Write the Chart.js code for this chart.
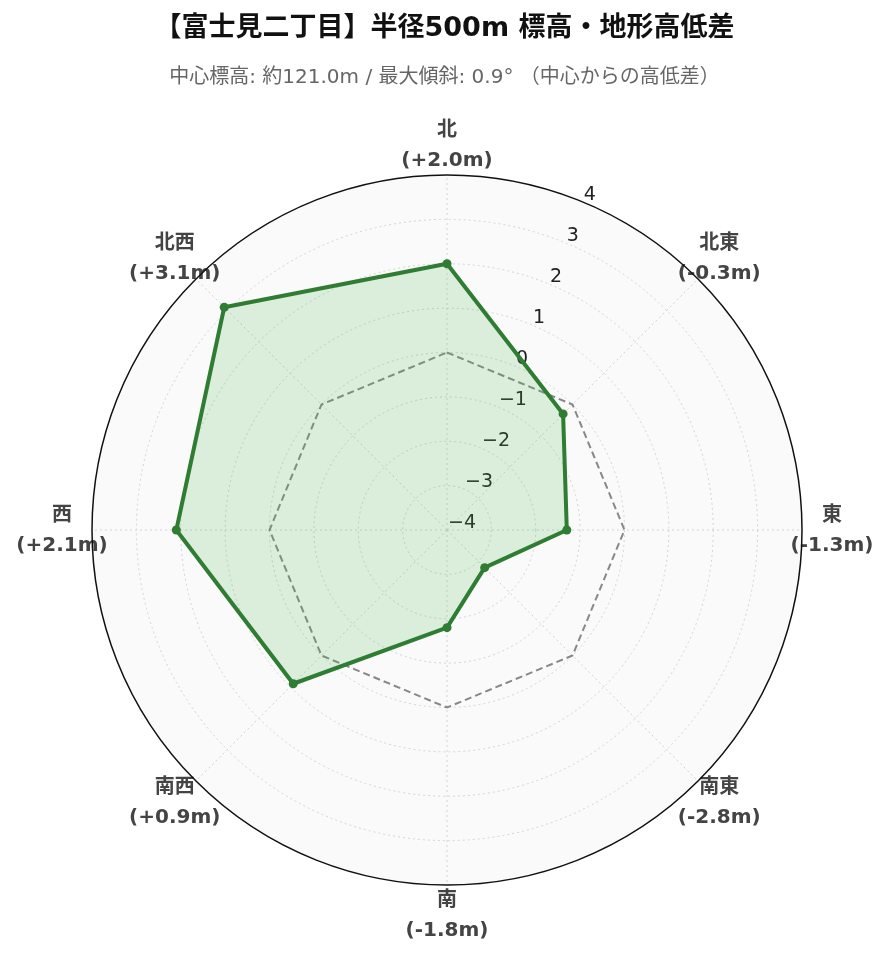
<!DOCTYPE html>
<html>
<head>
<meta charset="utf-8">
<script src="https://cdn.jsdelivr.net/npm/chart.js@4"></script>
<style>
  html, body { margin: 0; padding: 0; background: #fff; }
  #wrap { position: relative; width: 889px; height: 962px; }
  #title, #subtitle { position: absolute; left: 0; width: 889px; text-align: center; font-family: "DejaVu Sans", "Noto Sans CJK JP", sans-serif; }
  #title { top: 11px; line-height: 32px; font-size: 27px; font-weight: bold; color: #111; }
  #subtitle { top: 63px; line-height: 26px; font-size: 20px; color: #666; }
  canvas { position: absolute; left: 0; top: 0; }
</style>
</head>
<body>
<div id="wrap">
  <canvas id="radar" width="889" height="962"></canvas>
  <div id="title">【富士見二丁目】半径500m 標高・地形高低差</div>
  <div id="subtitle">中心標高: 約121.0m / 最大傾斜: 0.9° （中心からの高低差）</div>
</div>
<script>
// ─── DATA ─────────────────────────────────────────────────────────
const directions = ["北", "北東", "東", "南東", "南", "南西", "西", "北西"];
const diffs = [2.0, -0.3, -1.3, -2.8, -1.8, 0.9, 2.1, 3.1];
const zeroLine = [0, 0, 0, 0, 0, 0, 0, 0];
const rMin = -4;
const rMax = 4;

const green = "#2e7d32";

function fmtDiff(v) {
  return `(${v >= 0 ? "+" : "-"}${Math.abs(v).toFixed(1)}m)`;
}

// tick labels, point labels and outer ring drawn with the scale's own geometry
const overlayPlugin = {
  id: "overlay",
  beforeDatasetsDraw(chart) {
    const scale = chart.scales.r;
    const ctx = chart.ctx;
    const cx = scale.xCenter;
    const cy = scale.yCenter;

    ctx.save();
    // radial ticks along 22.5°
    const a = -Math.PI / 2 + Math.PI / 8;
    ctx.font = '19px "DejaVu Sans"';
    ctx.fillStyle = "#222";
    ctx.textAlign = "left";
    ctx.textBaseline = "alphabetic";
    scale.ticks.forEach((t) => {
      const d = scale.getDistanceFromCenterForValue(t.value);
      const x = cx + Math.cos(a) * d;
      const y = cy + Math.sin(a) * d;
      ctx.fillText(String(t.value).replace("-", "\u2212"), x + 1, y - 2);
    });

    // direction labels
    ctx.font = 'bold 20px "DejaVu Sans", "Noto Sans CJK JP"';
    ctx.fillStyle = "#444";
    ctx.textAlign = "center";
    ctx.textBaseline = "middle";
    directions.forEach((name, i) => {
      const p = scale.getPointPosition(i, scale.drawingArea + 30);
      ctx.fillText(name, p.x, p.y - 14);
      ctx.fillText(fmtDiff(diffs[i]), p.x, p.y + 16);
    });

    // outer ring
    ctx.beginPath();
    ctx.arc(cx, cy, scale.getDistanceFromCenterForValue(rMax), 0, Math.PI * 2);
    ctx.strokeStyle = "#111";
    ctx.lineWidth = 1.5;
    ctx.stroke();
    ctx.restore();
  },
};

new Chart(document.getElementById("radar"), {
  type: "radar",
  data: {
    labels: directions,
    datasets: [
      {
        label: "高低差",
        data: diffs,
        borderColor: green,
        backgroundColor: "rgba(76,175,80,0.18)",
        borderWidth: 4,
        pointRadius: 4.5,
        pointBackgroundColor: green,
        pointBorderColor: green,
        pointBorderWidth: 0,
        fill: "start",
        tension: 0,
      },
      {
        label: "基準 (0m)",
        data: zeroLine,
        borderColor: "#888",
        borderWidth: 2,
        borderDash: [7, 4],
        pointRadius: 0,
        fill: false,
      },
    ],
  },
  options: {
    responsive: false,
    animation: false,
    layout: { padding: { left: 92, right: 87, top: 175, bottom: 77 } },
    plugins: {
      legend: { display: false },
      tooltip: { enabled: false },
    },
    scales: {
      r: {
        min: rMin,
        max: rMax,
        backgroundColor: "#fafafa",
        ticks: { display: false, stepSize: 1 },
        pointLabels: { display: false },
        grid: {
          circular: true,
          color: (c) => (c.tick && c.tick.value === rMax ? "rgba(0,0,0,0)" : "#d4d4d4"),
          lineWidth: 1,
        },
        border: { dash: [2, 3] },
        angleLines: {
          color: "#d4d4d4",
          lineWidth: 1,
          borderDash: [2, 3],
        },
      },
    },
  },
  plugins: [overlayPlugin],
});
</script>
</body>
</html>
